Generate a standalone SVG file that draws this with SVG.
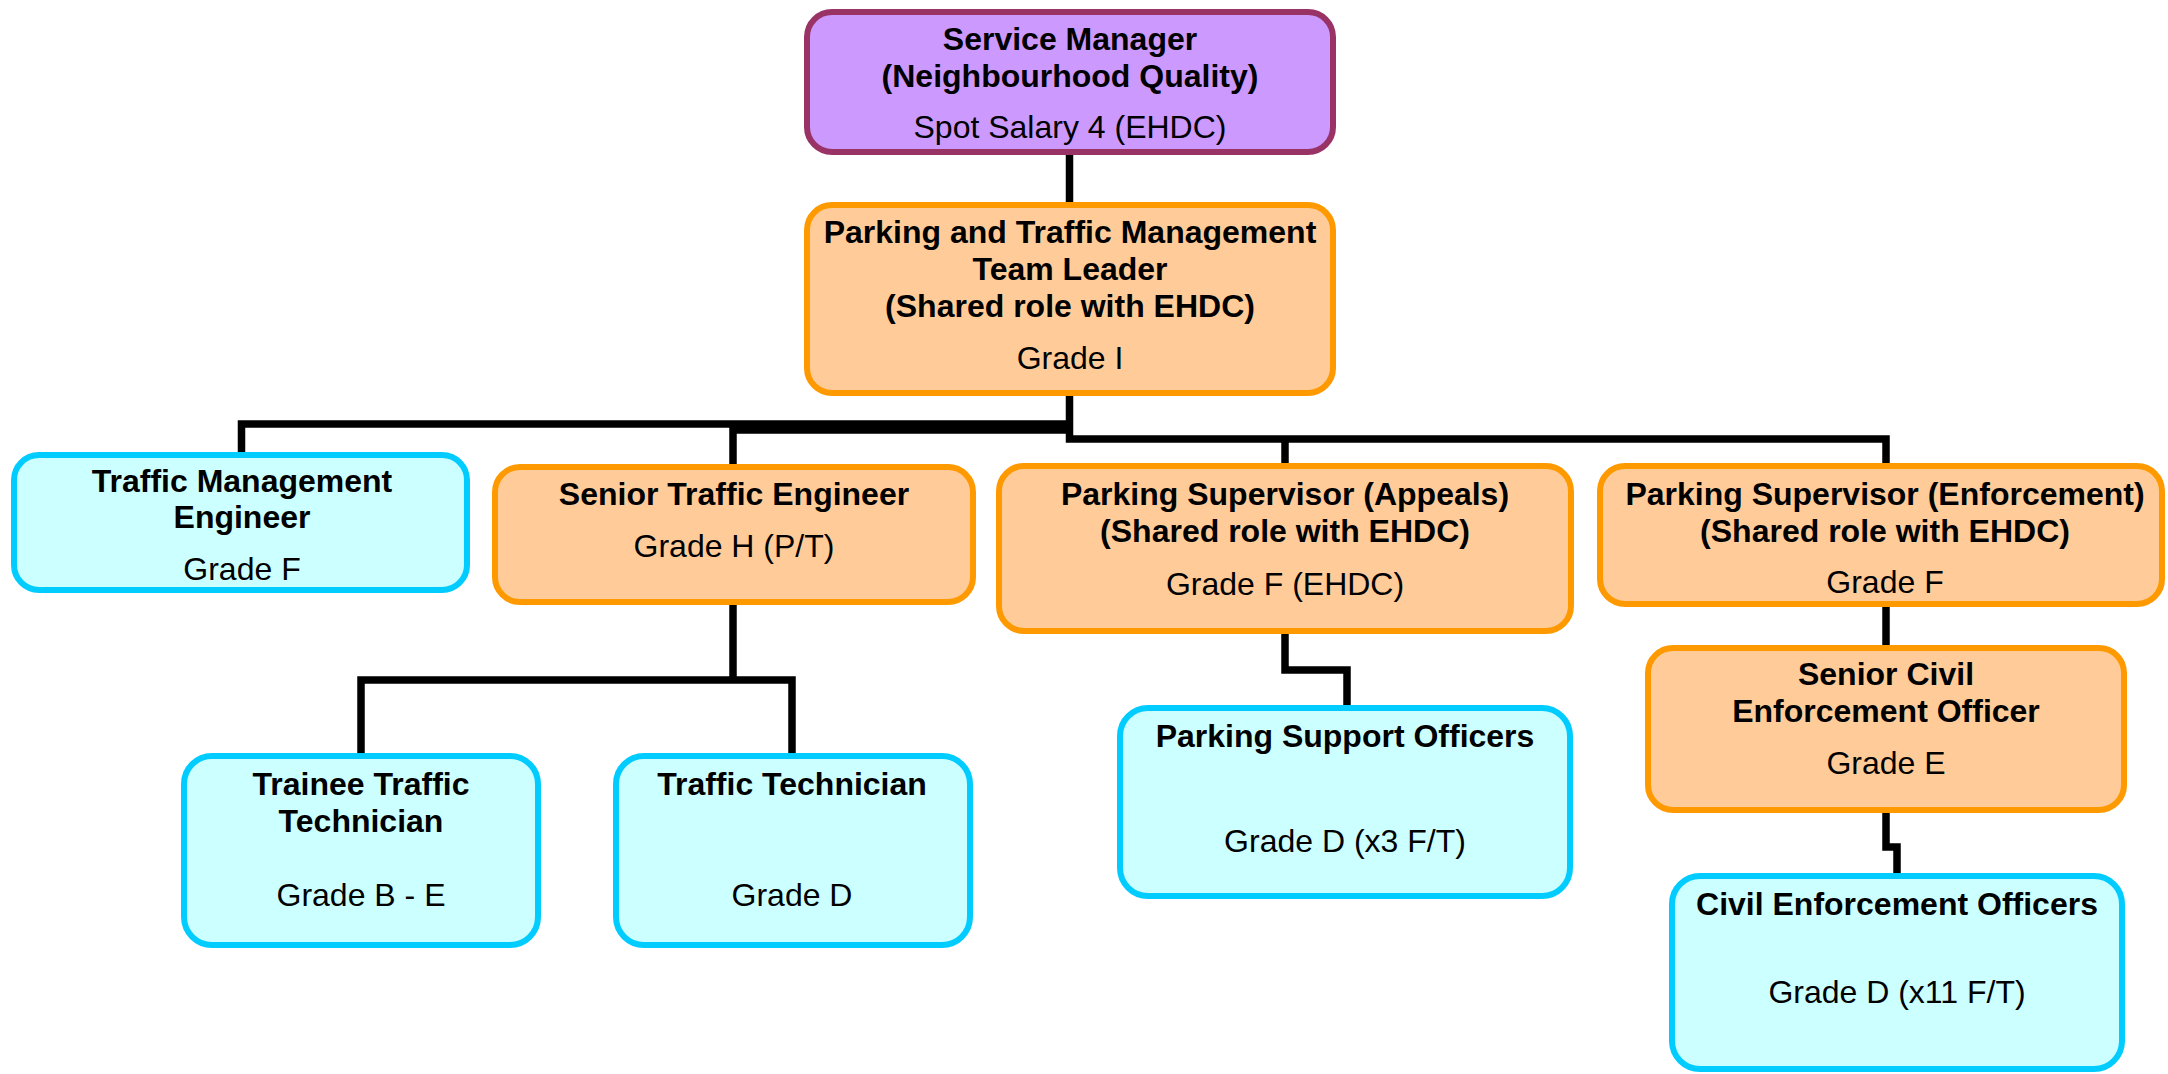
<svg xmlns="http://www.w3.org/2000/svg" width="2168" height="1074" viewBox="0 0 2168 1074">
<style>
.box{stroke-width:6}
.purple{fill:#CC99FF;stroke:#993366}
.orange{fill:#FFCC99;stroke:#FF9900}
.cyan{fill:#CCFFFF;stroke:#00CCFF}
text{font-family:"Liberation Sans",Arial,sans-serif;font-size:32px;fill:#000;text-anchor:middle}
.b{font-weight:bold}
.conn{fill:none;stroke:#000;stroke-width:7.5;stroke-linejoin:miter;stroke-linecap:butt}
</style>
<rect width="2168" height="1074" fill="#fff"/>
<g id="connectors">
<path class="conn" d="M1069.5 150 V207"/>
<path class="conn" d="M241.5 456 V424 H1069.5"/>
<path class="conn" d="M733 468 V430 H1069.5"/>
<path class="conn" d="M1069.5 390 V439 H1886 V468"/>
<path class="conn" d="M1285 439 V468"/>
<path class="conn" d="M733 600 V680"/>
<path class="conn" d="M361 758 V680 H792 V758"/>
<path class="conn" d="M1285 630 V670 H1347 V710"/>
<path class="conn" d="M1886 600 V650"/>
<path class="conn" d="M1886 808 V847 H1897 V878"/>
</g>
<g id="service-manager">
<rect class="box purple" x="807" y="12" width="526" height="140" rx="25"/>
<text class="b" x="1070" y="50">Service Manager</text>
<text class="b" x="1070" y="87">(Neighbourhood Quality)</text>
<text x="1070" y="138">Spot Salary 4 (EHDC)</text>
</g>
<g id="team-leader">
<rect class="box orange" x="807" y="205" width="526" height="188" rx="25"/>
<text class="b" x="1070" y="243">Parking and Traffic Management</text>
<text class="b" x="1070" y="280">Team Leader</text>
<text class="b" x="1070" y="317">(Shared role with EHDC)</text>
<text x="1070" y="369">Grade I</text>
</g>
<g id="traffic-management-engineer">
<rect class="box cyan" x="14" y="455" width="453" height="135" rx="25"/>
<text class="b" x="242" y="492">Traffic Management</text>
<text class="b" x="242" y="528">Engineer</text>
<text x="242" y="580">Grade F</text>
</g>
<g id="senior-traffic-engineer">
<rect class="box orange" x="495" y="467" width="478" height="135" rx="25"/>
<text class="b" x="734" y="505">Senior Traffic Engineer</text>
<text x="734" y="557">Grade H (P/T)</text>
</g>
<g id="parking-supervisor-appeals">
<rect class="box orange" x="999" y="466" width="572" height="165" rx="25"/>
<text class="b" x="1285" y="505">Parking Supervisor (Appeals)</text>
<text class="b" x="1285" y="542">(Shared role with EHDC)</text>
<text x="1285" y="595">Grade F (EHDC)</text>
</g>
<g id="parking-supervisor-enforcement">
<rect class="box orange" x="1600" y="466" width="562" height="138" rx="25"/>
<text class="b" x="1885" y="505">Parking Supervisor (Enforcement)</text>
<text class="b" x="1885" y="542">(Shared role with EHDC)</text>
<text x="1885" y="593">Grade F</text>
</g>
<g id="trainee-traffic-technician">
<rect class="box cyan" x="184" y="756" width="354" height="189" rx="28"/>
<text class="b" x="361" y="795">Trainee Traffic</text>
<text class="b" x="361" y="832">Technician</text>
<text x="361" y="906">Grade B - E</text>
</g>
<g id="traffic-technician">
<rect class="box cyan" x="616" y="756" width="354" height="189" rx="28"/>
<text class="b" x="792" y="795">Traffic Technician</text>
<text x="792" y="906">Grade D</text>
</g>
<g id="parking-support-officers">
<rect class="box cyan" x="1120" y="708" width="450" height="188" rx="28"/>
<text class="b" x="1345" y="747">Parking Support Officers</text>
<text x="1345" y="852">Grade D (x3 F/T)</text>
</g>
<g id="senior-civil-enforcement-officer">
<rect class="box orange" x="1648" y="648" width="476" height="162" rx="25"/>
<text class="b" x="1886" y="685">Senior Civil</text>
<text class="b" x="1886" y="722">Enforcement Officer</text>
<text x="1886" y="774">Grade E</text>
</g>
<g id="civil-enforcement-officers">
<rect class="box cyan" x="1672" y="876" width="450" height="193" rx="28"/>
<text class="b" x="1897" y="915">Civil Enforcement Officers</text>
<text x="1897" y="1003">Grade D (x11 F/T)</text>
</g>
</svg>
